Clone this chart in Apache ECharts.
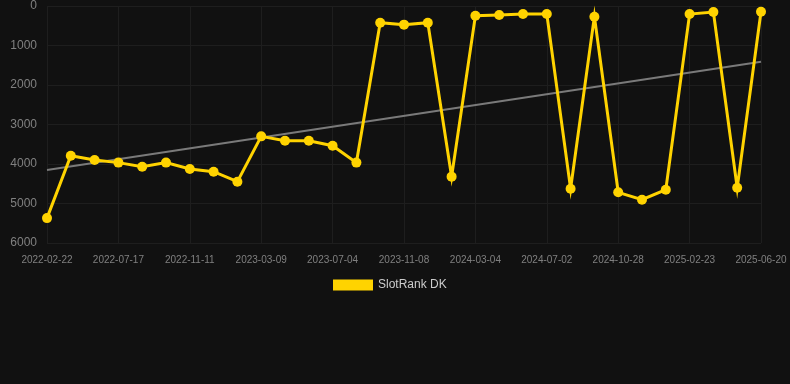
<!DOCTYPE html>
<html>
<head>
<meta charset="utf-8">
<script src="https://cdn.jsdelivr.net/npm/echarts@6/dist/echarts.min.js"></script>
<style>
  html, body { margin: 0; padding: 0; background: #111111; }
  #chart { width: 790px; height: 384px; }
</style>
</head>
<body>
<div id="chart"></div>
<script>
// categories (every third one is shown on the axis)
var dates = [
  '2022-02-22', '2022-04-09', '2022-05-28', '2022-07-17', '2022-08-24', '2022-10-02',
  '2022-11-11', '2022-12-20', '2023-01-28', '2023-03-09', '2023-04-22', '2023-05-27',
  '2023-07-04', '2023-08-16', '2023-09-27', '2023-11-08', '2023-12-20', '2024-01-31',
  '2024-03-04', '2024-04-14', '2024-05-24', '2024-07-02', '2024-08-10', '2024-09-19',
  '2024-10-28', '2024-12-05', '2025-01-14', '2025-02-23', '2025-04-03', '2025-05-12',
  '2025-06-20'
];
// rank values (lower is better, axis inverted)
var rankDK = [
  5370, 3790, 3900, 3965, 4068, 3965, 4127, 4194, 4448, 3300, 3410, 3410,
  3536, 3965, 422, 472, 422, 4320, 245, 228, 203, 203, 4625, 270,
  4717, 4903, 4650, 203, 152, 4600, 144
];
// trend line ends
var trendEnds = [4150, 1410];

var chart = echarts.init(document.getElementById('chart'));

var option = {
  backgroundColor: '#111111',
  animation: false,
  grid: {
    left: 47,
    right: 29,
    top: 6,
    bottom: 141
  },
  legend: {
    bottom: 88,
    left: 328,
    itemWidth: 40,
    itemHeight: 11,
    itemGap: 6,
    data: [{ name: 'SlotRank DK', icon: 'rect' }],
    textStyle: { color: '#cccccc', fontSize: 12 }
  },
  xAxis: {
    type: 'category',
    data: dates,
    boundaryGap: false,
    axisLine: { show: false },
    axisTick: { show: false },
    axisLabel: {
      interval: 2,
      color: '#808080',
      fontSize: 10,
      margin: 12
    },
    splitLine: {
      show: true,
      interval: 2,
      lineStyle: { color: '#1e1e1e', width: 1 }
    }
  },
  yAxis: {
    type: 'value',
    inverse: true,
    min: 0,
    max: 6000,
    interval: 1000,
    axisLine: { show: false },
    axisTick: { show: false },
    axisLabel: {
      color: '#808080',
      fontSize: 12,
      margin: 10,
      formatter: function (val) {
        return String(val);
      }
    },
    splitLine: {
      lineStyle: { color: '#1e1e1e', width: 1 }
    }
  },
  series: [
    {
      name: 'SlotRank DK',
      type: 'line',
      data: rankDK,
      symbol: 'circle',
      symbolSize: 10,
      color: '#FFD300',
      lineStyle: { width: 3, join: 'miter', miterLimit: 10 },
      itemStyle: { color: '#FFD300' },
      z: 3
    },
    {
      name: 'trend',
      type: 'line',
      data: [[dates[0], trendEnds[0]], [dates[dates.length - 1], trendEnds[1]]],
      symbol: 'none',
      silent: true,
      lineStyle: { color: '#7a7a7a', width: 2 },
      z: 2
    }
  ]
};

chart.setOption(option);
</script>
</body>
</html>
